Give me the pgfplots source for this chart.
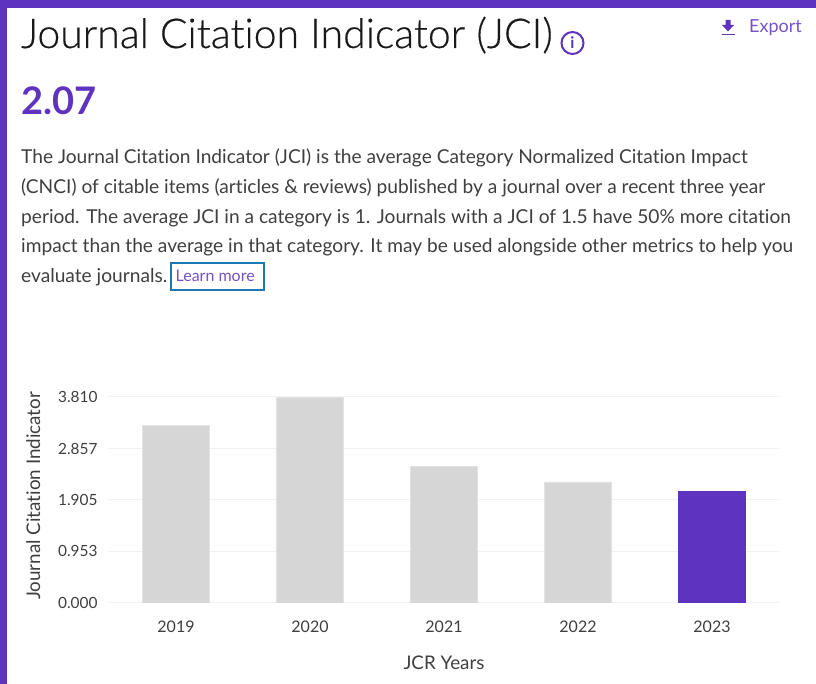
\documentclass[border=0pt]{standalone}
\usepackage{fontspec}
\setmainfont{Lato}[Ligatures=NoCommon]
\newfontfamily\lightfont{Lato Light}[Ligatures=NoCommon,FakeBold=0.4]
\usepackage{pgfplots}
\pgfplotsset{compat=1.18}

\definecolor{jcipurple}{HTML}{5E33BF}
\definecolor{bargray}{HTML}{D6D6D6}
\definecolor{gridgray}{HTML}{F2F2F2}
\definecolor{bodytext}{HTML}{3F3F3F}
\definecolor{boxblue}{HTML}{1F77B4}

\newcommand{\px}[1]{\fontsize{#1bp}{#1bp}\selectfont}

\begin{document}
\begin{tikzpicture}[x=1bp,y=1bp]
\useasboundingbox (0,0) rectangle (816,684);
\fill[white] (0,0) rectangle (816,684);
\fill[jcipurple] (0,0) rectangle (7,684);
\fill[jcipurple] (0,676) rectangle (816,684);

% header
\node[anchor=base west,inner sep=0,text=black!90] at (21,636) {\lightfont\px{41}Journal Citation Indicator (JCI)};
\draw[jcipurple,line width=2bp] (572.5,641) circle (11);
\node[text=jcipurple,inner sep=0,font=\bfseries] at (572.5,641) {\px{16}i};
\node[anchor=base west,inner sep=0,text=jcipurple!85] at (749,651) {\px{18}Export};
\fill[jcipurple] (725.5,664) -- (730.5,664) -- (730.5,659) -- (734,659) -- (728,652.5) -- (722,659) -- (725.5,659) -- cycle;
\draw[jcipurple,line width=1.6bp] (721.5,649.5) -- (734.5,649.5);
\node[anchor=base west,inner sep=0,text=jcipurple] at (21,569) {\bfseries\px{38}2.07};

% description
\node[anchor=base west,inner sep=0,text=bodytext] at (21,520) {\px{19.15}The Journal Citation Indicator (JCI) is the average Category Normalized Citation Impact};
\node[anchor=base west,inner sep=0,text=bodytext] at (21,490) {\px{19.15}(CNCI) of citable items (articles \& reviews) published by a journal over a recent three year};
\node[anchor=base west,inner sep=0,text=bodytext] at (21,460) {\px{19.15}period. The average JCI in a category is 1. Journals with a JCI of 1.5 have 50\% more citation};
\node[anchor=base west,inner sep=0,text=bodytext] at (21,431) {\px{19.15}impact than the average in that category. It may be used alongside other metrics to help you};
\node[anchor=base west,inner sep=0,text=bodytext] at (21,401) {\px{19.15}evaluate journals.};
\draw[boxblue,line width=2bp] (171,394) rectangle (264,421);
\node[anchor=base west,inner sep=0,text=jcipurple!85] at (175.5,402) {\px{16}Learn more};

\begin{axis}[
  at={(109bp,81bp)}, anchor=south west,
  scale only axis, width=670bp, height=206bp,
  xmin=-0.5, xmax=4.5, ymin=0, ymax=3.81,
  ybar, bar width=67bp,
  axis x line*=bottom, axis y line*=left,
  axis line style={draw=none},
  xtick={0,1,2,3,4}, xticklabels={2019,2020,2021,2022,2023},
  ytick={0,0.953,1.905,2.857,3.81}, yticklabels={0.000,0.953,1.905,2.857,3.810},
  major tick length=0pt,
  ymajorgrids, grid style={draw=gridgray,line width=1bp},
  /pgf/number format/assume math mode=true,
  tick label style={font=\px{16},text=bodytext},
  xticklabel style={yshift=-14bp},
  yticklabel style={font=\px{15.4},xshift=-8bp},
  xlabel={JCR Years}, ylabel={Journal Citation Indicator},
  label style={font=\px{18.8},text=bodytext},
  xlabel style={at={(axis description cs:0.5,0)},anchor=base,yshift=-67bp},
  ylabel style={at={(axis description cs:0,0.52)},anchor=base,yshift=69bp},
]
\addplot[bar shift=0pt,fill=bargray,draw=bargray!70!white] coordinates {(0,3.29) (1,3.80) (2,2.53) (3,2.24)};
\addplot[bar shift=0pt,fill=jcipurple,draw=jcipurple] coordinates {(4,2.07)};
\end{axis}
\end{tikzpicture}
\end{document}
